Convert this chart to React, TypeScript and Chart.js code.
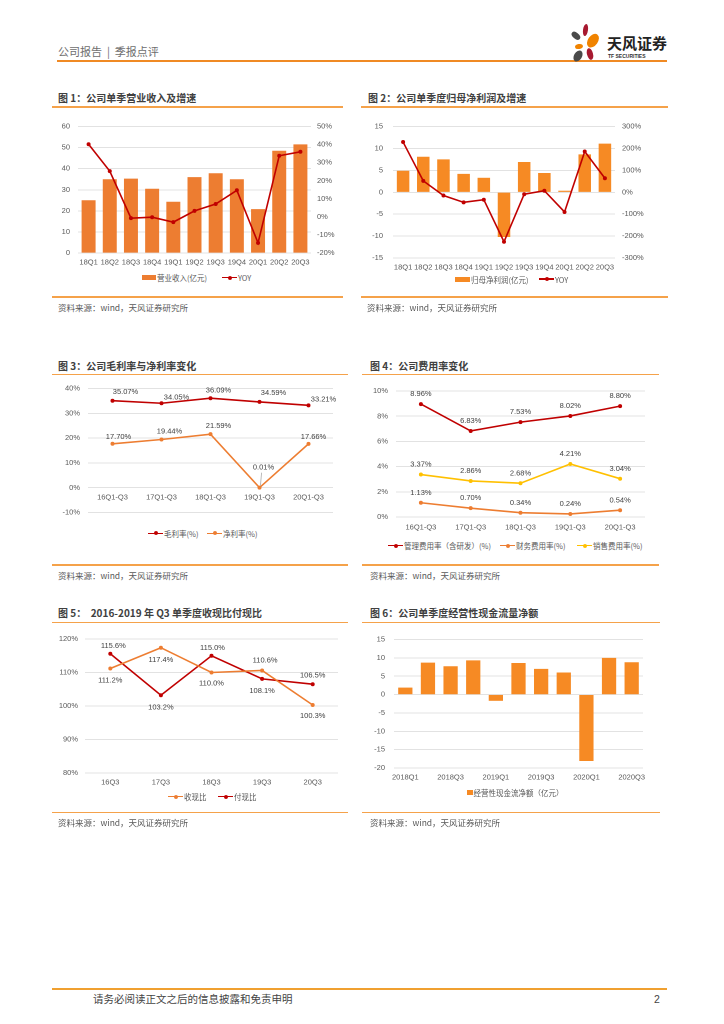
import React, { useEffect, useRef } from "react";
import { Chart, registerables } from "chart.js";
Chart.register(...registerables);

const NUM_FONT = '"Liberation Sans", Arial, "Noto Sans CJK SC", sans-serif';
const CJK_FONT = '"Noto Sans CJK SC", "Liberation Sans", sans-serif';

// ---------------- data ----------------
const fig1Quarters = ["18Q1", "18Q2", "18Q3", "18Q4", "19Q1", "19Q2", "19Q3", "19Q4", "20Q1", "20Q2", "20Q3"];
const fig1Revenue = [25.0, 35.0, 35.3, 30.5, 24.3, 36.0, 37.8, 35.0, 20.8, 48.5, 51.5];
const fig1RevenueYoy = [40.2, 25.3, -0.7, -0.2, -2.9, 3.3, 7.1, 14.7, -14.4, 33.8, 36.0];

const fig2Quarters = ["18Q1", "18Q2", "18Q3", "18Q4", "19Q1", "19Q2", "19Q3", "19Q4", "20Q1", "20Q2", "20Q3"];
const fig2NetProfit = [4.9, 8.1, 7.5, 4.2, 3.3, -10.2, 6.9, 4.4, 0.35, 8.65, 11.1];
const fig2NetProfitYoy = [229, 52, -15, -46, -34, -226, -9, 7, -90, 186, 64];

const fig3Periods = ["16Q1-Q3", "17Q1-Q3", "18Q1-Q3", "19Q1-Q3", "20Q1-Q3"];
const fig3GrossMargin = [35.07, 34.05, 36.09, 34.59, 33.21];
const fig3NetMargin = [17.7, 19.44, 21.59, 0.01, 17.66];

const fig4Periods = ["16Q1-Q3", "17Q1-Q3", "18Q1-Q3", "19Q1-Q3", "20Q1-Q3"];
const fig4AdminRate = [8.96, 6.83, 7.53, 8.02, 8.8];
const fig4FinanceRate = [1.13, 0.7, 0.34, 0.24, 0.54];
const fig4SalesRate = [3.37, 2.86, 2.68, 4.21, 3.04];

const fig5Quarters = ["16Q3", "17Q3", "18Q3", "19Q3", "20Q3"];
const fig5CashReceivedRatio = [111.2, 117.4, 110.0, 110.6, 100.3];
const fig5CashPaidRatio = [115.6, 103.2, 115.0, 108.1, 106.5];

const fig6Quarters = ["2018Q1", "2018Q2", "2018Q3", "2018Q4", "2019Q1", "2019Q2", "2019Q3", "2019Q4", "2020Q1", "2020Q2", "2020Q3"];
const fig6OperatingCashFlow = [1.9, 8.7, 7.7, 9.3, -1.7, 8.6, 7.0, 6.0, -18.1, 10.0, 8.8];

// ---------------- style ----------------
const C_RED = "#C00000";
const C_ORANGE = "#ED7D31";
const C_BAR = "#F68A24";
const C_YELLOW = "#FFC000";
const C_GRID = "#D9D9D9";
const C_TICK = "#595959";
const C_RULE = "#F5A24A";
const C_LABEL = "#404040";
const tickFont = { size: 7.5, family: NUM_FONT };

type Frame = { cl: number; ct: number; cr: number; cb: number; pl: number; pt: number; pr: number; pb: number };

const frame1: Frame = { cl: 50, ct: 114, cr: 343, cb: 272, pl: 78, pt: 124, pr: 311, pb: 253 };
const frame2: Frame = { cl: 360, ct: 112, cr: 650, cb: 276, pl: 393, pt: 122, pr: 615, pb: 258 };
const frame3: Frame = { cl: 50, ct: 376, cr: 345, cb: 525, pl: 88, pt: 384, pr: 333, pb: 518 };
const frame4: Frame = { cl: 360, ct: 378, cr: 655, cb: 537, pl: 396, pt: 391, pr: 645, pb: 517 };
const frame5: Frame = { cl: 50, ct: 626, cr: 345, cb: 792, pl: 85, pt: 639, pr: 338, pb: 773 };
const frame6: Frame = { cl: 360, ct: 626, cr: 655, cb: 788, pl: 394, pt: 639, pr: 643, pb: 768 };

function baseOptions(f: Frame, scales: any, hasRight: boolean, bottomPad = 0) {
  return {
    responsive: false,
    animation: false,
    devicePixelRatio: 2,
    layout: { padding: { top: f.pt - f.ct, left: 0, right: hasRight ? 0 : f.cr - f.pr, bottom: bottomPad } },
    plugins: { legend: { display: false }, tooltip: { enabled: false } },
    scales,
  };
}

function xScale(f: Frame, pad: number, extra: any = {}) {
  return {
    type: "category",
    position: "bottom",
    offset: true,
    grid: { display: false, drawTicks: false },
    border: { display: false },
    ticks: { color: C_TICK, font: tickFont, padding: pad, maxRotation: 0, minRotation: 0, autoSkip: false },
    afterFit: (s: any) => {
      s.height = f.cb - f.pb;
    },
    ...extra,
  };
}

function yScale(f: Frame, o: { min: number; max: number; step: number; pad: number; suffix?: string; right?: boolean }) {
  return {
    type: "linear",
    position: o.right ? "right" : "left",
    min: o.min,
    max: o.max,
    ticks: {
      stepSize: o.step,
      color: C_TICK,
      font: tickFont,
      padding: o.pad,
      callback: (v: any) => `${v}${o.suffix || ""}`,
    },
    grid: o.right ? { display: false, drawTicks: false } : { color: C_GRID, lineWidth: 0.75, drawTicks: false },
    border: { display: false },
    afterFit: (s: any) => {
      s.width = o.right ? f.cr - f.pr : f.pl - f.cl;
    },
  };
}

function lineDs(label: string, data: number[], color: string, extra: any = {}) {
  return {
    type: "line",
    label,
    data,
    borderColor: color,
    backgroundColor: color,
    borderWidth: 1.6,
    pointRadius: 2,
    pointBorderWidth: 0,
    pointBackgroundColor: color,
    tension: 0,
    order: 0,
    ...extra,
  };
}

type LabelSpec = {
  dataset: number;
  fmt: (v: number) => string;
  offsets: number[][];
  leader?: number[];
};

function makeLabelPlugin(specs: LabelSpec[]) {
  return {
    id: "pointLabels",
    afterDatasetsDraw(chart: any) {
      const ctx = chart.ctx;
      ctx.save();
      ctx.font = `7.5px ${NUM_FONT}`;
      ctx.fillStyle = C_LABEL;
      ctx.textAlign = "center";
      ctx.textBaseline = "middle";
      specs.forEach((s) => {
        const meta = chart.getDatasetMeta(s.dataset);
        const data = chart.data.datasets[s.dataset].data;
        meta.data.forEach((el: any, j: number) => {
          const [dx, dy] = s.offsets[j];
          const x = el.x + dx;
          const y = el.y + dy;
          if (s.leader && s.leader.includes(j)) {
            ctx.save();
            ctx.strokeStyle = "#A6A6A6";
            ctx.lineWidth = 0.75;
            ctx.beginPath();
            ctx.moveTo(x - 2, y + 5);
            ctx.lineTo(el.x + 1, el.y - 2);
            ctx.stroke();
            ctx.restore();
          }
          ctx.fillText(s.fmt(data[j]), x, y);
        });
      });
      ctx.restore();
    },
  };
}

const pct2 = (v: number) => `${v.toFixed(2)}%`;
const pct1 = (v: number) => `${v.toFixed(1)}%`;

// label placement (style)
const fig3GrossOffsets = [[13, -9], [15, -6], [8, -8], [14, -9], [15, -6]];
const fig3NetOffsets = [[6, -7], [8, -8], [8, -8], [4, -20], [5, -7]];
const fig4Offsets = [[0, -10], [0, -10], [0, -10], [0, -10], [0, -10]];
const fig5ReceivedOffsets = [[0, 12], [0, 12], [0, 11], [3, -10], [0, 11]];
const fig5PaidOffsets = [[3, -8], [0, 12], [1, -8], [0, 12], [0, -9]];

// ---------------- chart configs ----------------
function buildFig1() {
  const f = frame1;
  return {
    type: "bar",
    data: {
      labels: fig1Quarters,
      datasets: [
        lineDs("YOY", fig1RevenueYoy, C_RED, { yAxisID: "y2" }),
        { type: "bar", label: "营业收入(亿元)", data: fig1Revenue, yAxisID: "y", backgroundColor: C_ORANGE, barPercentage: 0.66, categoryPercentage: 1, order: 1 },
      ],
    },
    options: baseOptions(f, {
      x: xScale(f, 5),
      y: yScale(f, { min: 0, max: 60, step: 10, pad: 8 }),
      y2: yScale(f, { min: -20, max: 50, step: 10, pad: 6, suffix: "%", right: true }),
    }, true),
  };
}

function buildFig2() {
  const f = frame2;
  return {
    type: "bar",
    data: {
      labels: fig2Quarters,
      datasets: [
        lineDs("YOY", fig2NetProfitYoy, C_RED, { yAxisID: "y2" }),
        { type: "bar", label: "归母净利润(亿元)", data: fig2NetProfit, yAxisID: "y", backgroundColor: C_BAR, barPercentage: 0.62, categoryPercentage: 1, order: 1 },
      ],
    },
    options: baseOptions(f, {
      x: xScale(f, 5),
      y: yScale(f, { min: -15, max: 15, step: 5, pad: 10 }),
      y2: yScale(f, { min: -300, max: 300, step: 100, pad: 7, suffix: "%", right: true }),
    }, true),
  };
}

function buildFig3() {
  const f = frame3;
  return {
    type: "line",
    data: {
      labels: fig3Periods,
      datasets: [lineDs("毛利率(%)", fig3GrossMargin, C_RED), lineDs("净利率(%)", fig3NetMargin, C_ORANGE)],
    },
    options: baseOptions(f, {
      x: xScale(f, 5, { position: { y: 0 }, afterFit: (s: any) => { s.height = 0; } }),
      y: yScale(f, { min: -10, max: 40, step: 10, pad: 8, suffix: "%" }),
    }, false, f.cb - f.pb),
    plugins: [
      makeLabelPlugin([
        { dataset: 0, fmt: pct2, offsets: fig3GrossOffsets },
        { dataset: 1, fmt: pct2, offsets: fig3NetOffsets, leader: [3] },
      ]),
    ],
  };
}

function buildFig4() {
  const f = frame4;
  return {
    type: "line",
    data: {
      labels: fig4Periods,
      datasets: [
        lineDs("管理费用率（含研发）(%)", fig4AdminRate, C_RED),
        lineDs("财务费用率(%)", fig4FinanceRate, C_ORANGE),
        lineDs("销售费用率(%)", fig4SalesRate, C_YELLOW),
      ],
    },
    options: baseOptions(f, {
      x: xScale(f, 6),
      y: yScale(f, { min: 0, max: 10, step: 2, pad: 8, suffix: "%" }),
    }, false),
    plugins: [
      makeLabelPlugin([
        { dataset: 0, fmt: pct2, offsets: fig4Offsets },
        { dataset: 1, fmt: pct2, offsets: fig4Offsets },
        { dataset: 2, fmt: pct2, offsets: fig4Offsets },
      ]),
    ],
  };
}

function buildFig5() {
  const f = frame5;
  return {
    type: "line",
    data: {
      labels: fig5Quarters,
      datasets: [lineDs("收现比", fig5CashReceivedRatio, C_ORANGE), lineDs("付现比", fig5CashPaidRatio, C_RED)],
    },
    options: baseOptions(f, {
      x: xScale(f, 5),
      y: yScale(f, { min: 80, max: 120, step: 10, pad: 7, suffix: "%" }),
    }, false),
    plugins: [
      makeLabelPlugin([
        { dataset: 0, fmt: pct1, offsets: fig5ReceivedOffsets },
        { dataset: 1, fmt: pct1, offsets: fig5PaidOffsets },
      ]),
    ],
  };
}

function buildFig6() {
  const f = frame6;
  return {
    type: "bar",
    data: {
      labels: fig6Quarters,
      datasets: [
        { label: "经营性现金流净额（亿元）", data: fig6OperatingCashFlow, backgroundColor: C_BAR, barPercentage: 0.63, categoryPercentage: 1 },
      ],
    },
    options: baseOptions(f, {
      x: xScale(f, 5, {
        ticks: {
          color: C_TICK, font: tickFont, padding: 5, maxRotation: 0, minRotation: 0, autoSkip: false,
          callback: (_v: any, i: number) => (i % 2 === 0 ? fig6Quarters[i] : ""),
        },
      }),
      y: yScale(f, { min: -20, max: 15, step: 5, pad: 9 }),
    }, false),
  };
}

// ---------------- components ----------------
function ChartCanvas({ frame, build }: { frame: Frame; build: () => any }) {
  const ref = useRef<HTMLCanvasElement>(null);
  useEffect(() => {
    const chart = new Chart(ref.current as HTMLCanvasElement, build());
    return () => chart.destroy();
  }, []);
  const w = frame.cr - frame.cl;
  const h = frame.cb - frame.ct;
  return (
    <div style={{ position: "absolute", left: frame.cl, top: frame.ct, width: w, height: h }}>
      <canvas ref={ref} width={w} height={h} style={{ width: w, height: h, display: "block" }} />
    </div>
  );
}

function Txt({ x, y, size, color = "#595959", bold = false, family = CJK_FONT, children }: any) {
  return (
    <div
      style={{
        position: "absolute",
        left: x,
        top: y - size * 0.6,
        fontSize: size,
        lineHeight: `${size * 1.2}px`,
        color,
        fontWeight: bold ? 700 : 400,
        fontFamily: family,
        whiteSpace: "pre",
      }}
    >
      {children}
    </div>
  );
}

function Rule({ x1, x2, y, color = C_RULE, h = 1.5 }: any) {
  return <div style={{ position: "absolute", left: x1, top: y - h / 2, width: x2 - x1, height: h, background: color }} />;
}

function LegendLine({ x, y, color, text }: any) {
  return (
    <>
      <div style={{ position: "absolute", left: x, top: y - 0.8, width: 15, height: 1.6, background: color }} />
      <div style={{ position: "absolute", left: x + 5.5, top: y - 2, width: 4, height: 4, borderRadius: 2, background: color }} />
      <Txt x={x + 16} y={y} size={7.5}>{text}</Txt>
    </>
  );
}

function LegendBox({ x, y, w, h, color, text }: any) {
  return (
    <>
      <div style={{ position: "absolute", left: x, top: y - h / 2, width: w, height: h, background: color }} />
      <Txt x={x + w + 1} y={y} size={7.5}>{text}</Txt>
    </>
  );
}

const petals = [
  { x: 585.5, y: 30, w: 5, h: 12, r: 8, c: "#A71930" },
  { x: 576, y: 36, w: 5.5, h: 10, r: -48, c: "#4A4A4A" },
  { x: 593, y: 40.5, w: 9.5, h: 15, r: 35, c: "#F08300" },
  { x: 579, y: 46.5, w: 8, h: 5, r: -10, c: "#F08300" },
  { x: 590, y: 53.5, w: 6, h: 12, r: -15, c: "#A71930" },
  { x: 577.5, y: 56, w: 8, h: 12, r: 30, c: "#4A4A4A" },
];

const SOURCE = "资料来源：wind，天风证券研究所";

export default function App() {
  return (
    <div style={{ position: "absolute", left: 0, top: 0, width: 724, height: 1024, background: "#fff", overflow: "hidden" }}>
      {/* header */}
      <Txt x={58} y={51.5} size={11} color="#6E6E6E">{"公司报告  |  季报点评"}</Txt>
      <Rule x1={57} x2={667} y={60.7} color="#F08A24" h={2} />
      {petals.map((p, i) => (
        <div
          key={i}
          style={{
            position: "absolute",
            left: p.x - p.w / 2,
            top: p.y - p.h / 2,
            width: p.w,
            height: p.h,
            borderRadius: "50%",
            background: p.c,
            transform: `rotate(${p.r}deg)`,
          }}
        />
      ))}
      <Txt x={607} y={43} size={15} color="#222" bold>天风证券</Txt>
      <Txt x={608} y={55.5} size={5} color="#333" family={NUM_FONT} bold>TF SECURITIES</Txt>

      {/* fig 1 */}
      <Txt x={58} y={97.7} size={10} color="#404040" bold>图 1：公司单季营业收入及增速</Txt>
      <Rule x1={52} x2={343} y={107} />
      <ChartCanvas frame={frame1} build={buildFig1} />
      <LegendBox x={142} y={277.7} w={14} h={5} color={C_ORANGE} text="营业收入(亿元)" />
      <LegendLine x={222} y={277.7} color={C_RED} text="YOY" />
      <Rule x1={52} x2={343} y={297} />
      <Txt x={58} y={306.7} size={8.5}>{SOURCE}</Txt>

      {/* fig 2 */}
      <Txt x={368} y={97.7} size={10} color="#404040" bold>图 2：公司单季度归母净利润及增速</Txt>
      <Rule x1={361} x2={668} y={107} />
      <ChartCanvas frame={frame2} build={buildFig2} />
      <LegendBox x={455} y={279} w={15} h={5} color={C_BAR} text="归母净利润(亿元)" />
      <LegendLine x={539} y={279} color={C_RED} text="YOY" />
      <Rule x1={361} x2={668} y={297} />
      <Txt x={367} y={306.7} size={8.5}>{SOURCE}</Txt>

      {/* fig 3 */}
      <Txt x={58} y={365.7} size={10} color="#404040" bold>图 3：公司毛利率与净利率变化</Txt>
      <Rule x1={52} x2={348} y={374.3} />
      <ChartCanvas frame={frame3} build={buildFig3} />
      <LegendLine x={148} y={533.3} color={C_RED} text="毛利率(%)" />
      <LegendLine x={207} y={533.3} color={C_ORANGE} text="净利率(%)" />
      <Rule x1={52} x2={348} y={565} />
      <Txt x={58} y={575} size={8.5}>{SOURCE}</Txt>

      {/* fig 4 */}
      <Txt x={370} y={365.7} size={10} color="#404040" bold>图 4：公司费用率变化</Txt>
      <Rule x1={362} x2={659} y={374.3} />
      <ChartCanvas frame={frame4} build={buildFig4} />
      <LegendLine x={388} y={545.7} color={C_RED} text="管理费用率（含研发）(%)" />
      <LegendLine x={500} y={545.7} color={C_ORANGE} text="财务费用率(%)" />
      <LegendLine x={577} y={545.7} color={C_YELLOW} text="销售费用率(%)" />
      <Rule x1={362} x2={659} y={565} />
      <Txt x={370} y={575} size={8.5}>{SOURCE}</Txt>

      {/* fig 5 */}
      <Txt x={58} y={613.3} size={10} color="#404040" bold>{"图 5：  2016-2019 年 Q3 单季度收现比付现比"}</Txt>
      <Rule x1={52} x2={348} y={622.3} />
      <ChartCanvas frame={frame5} build={buildFig5} />
      <LegendLine x={168} y={796.7} color={C_ORANGE} text="收现比" />
      <LegendLine x={218} y={796.7} color={C_RED} text="付现比" />
      <Rule x1={52} x2={348} y={812.3} />
      <Txt x={58} y={821.7} size={8.5}>{SOURCE}</Txt>

      {/* fig 6 */}
      <Txt x={370} y={613.3} size={10} color="#404040" bold>图 6：公司单季度经营性现金流量净额</Txt>
      <Rule x1={362} x2={660} y={622.3} />
      <ChartCanvas frame={frame6} build={buildFig6} />
      <LegendBox x={467} y={792.7} w={5.5} h={5.5} color={C_BAR} text="经营性现金流净额（亿元）" />
      <Rule x1={362} x2={660} y={812.3} />
      <Txt x={370} y={821.7} size={8.5}>{SOURCE}</Txt>

      {/* footer */}
      <Rule x1={52} x2={667} y={989.3} color="#F0A030" h={2} />
      <Txt x={93} y={999.5} size={10.5} color="#444">请务必阅读正文之后的信息披露和免责申明</Txt>
      <Txt x={654} y={999.5} size={10.5} color="#444" family={NUM_FONT}>2</Txt>
    </div>
  );
}
